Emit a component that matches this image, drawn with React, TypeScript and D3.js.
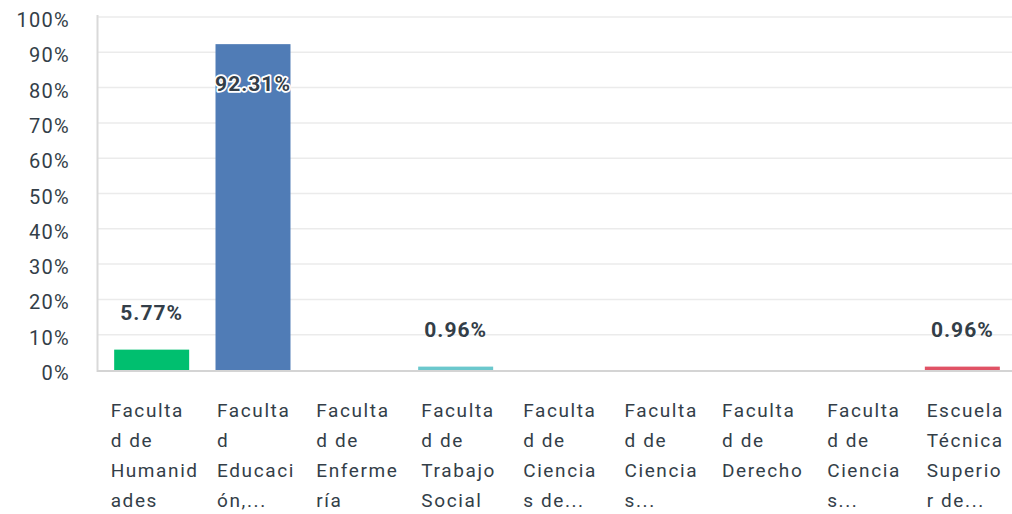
import React, { useEffect, useRef } from "react";
import * as d3 from "d3";

const categoryLines: string[][] = [
  ["Faculta", "d de", "Humanid", "ades"],
  ["Faculta", "d", "Educaci", "ón,..."],
  ["Faculta", "d de", "Enferme", "ría"],
  ["Faculta", "d de", "Trabajo", "Social"],
  ["Faculta", "d de", "Ciencia", "s de..."],
  ["Faculta", "d de", "Ciencia", "s..."],
  ["Faculta", "d de", "Derecho"],
  ["Faculta", "d de", "Ciencia", "s..."],
  ["Escuela", "Técnica", "Superio", "r de..."],
];
const values: number[] = [5.77, 92.31, 0, 0.96, 0, 0, 0, 0, 0.96];
const barColors: string[] = [
  "#00bf6f", "#507cb6", "#f9be00", "#6bc8cd", "#ff8b4f", "#7d5ab8", "#e05265", "#a0a0a0", "#e05265",
];
const yTicks: number[] = [0, 10, 20, 30, 40, 50, 60, 70, 80, 90, 100];

const W = 1012;
const H = 514;
const TEXT = "#333e48";
const FONT = "Roboto, 'Noto Sans', sans-serif";

export default function App() {
  const ref = useRef<SVGSVGElement | null>(null);

  useEffect(() => {
    const svg = d3.select(ref.current);
    svg.selectAll("*").remove();

    const x = d3
      .scaleBand<number>()
      .domain(values.map((_, i) => i))
      .range([101, 1013])
      .paddingInner(0.26)
      .paddingOuter(0.13);
    const y = d3.scaleLinear().domain([0, 100]).range([370, 17]);

    svg
      .append("g")
      .selectAll("line")
      .data(yTicks.filter((t) => t > 0))
      .join("line")
      .attr("x1", 98)
      .attr("x2", W)
      .attr("y1", (d) => y(d))
      .attr("y2", (d) => y(d))
      .attr("stroke", "#ebebeb")
      .attr("stroke-width", 1.5);

    svg
      .append("g")
      .selectAll("text")
      .data(yTicks)
      .join("text")
      .attr("x", 70)
      .attr("y", (d) => y(d) + 10)
      .attr("text-anchor", "end")
      .attr("font-family", FONT)
      .attr("font-size", 20)
      .attr("letter-spacing", 1.3)
      .attr("fill", TEXT)
      .text((d) => `${d}%`);

    svg
      .append("g")
      .selectAll("rect")
      .data(values)
      .join("rect")
      .attr("x", (_, i) => x(i)!)
      .attr("width", x.bandwidth())
      .attr("y", (d) => y(d))
      .attr("height", (d) => y(0) - y(d))
      .attr("fill", (_, i) => barColors[i]);

    svg
      .append("line")
      .attr("x1", 97.5)
      .attr("x2", 97.5)
      .attr("y1", 15)
      .attr("y2", 372)
      .attr("stroke", "#d9d9d9")
      .attr("stroke-width", 2);
    svg
      .append("line")
      .attr("x1", 97)
      .attr("x2", W)
      .attr("y1", 371)
      .attr("y2", 371)
      .attr("stroke", "#d4d4d4")
      .attr("stroke-width", 2);

    const labelled = values
      .map((v, i) => ({ v, i }))
      .filter((d) => d.v > 0);
    svg
      .append("g")
      .selectAll("text")
      .data(labelled)
      .join("text")
      .attr("x", (d) => x(d.i)! + x.bandwidth() / 2)
      .attr("y", (d) => (d.v > 50 ? y(d.v) + 47 : y(d.v) - 30))
      .attr("text-anchor", "middle")
      .attr("font-family", FONT)
      .attr("font-weight", 700)
      .attr("font-size", 21)
      .attr("letter-spacing", 1)
      .attr("fill", TEXT)
      .attr("stroke", (d) => (d.v > 50 ? "#ffffff" : "none"))
      .attr("stroke-width", 3.5)
      .attr("stroke-linejoin", "round")
      .attr("paint-order", "stroke")
      .text((d) => `${d.v.toFixed(2)}%`);

    const cg = svg.append("g");
    categoryLines.forEach((lines, i) => {
      const t = cg
        .append("text")
        .attr("font-family", FONT)
        .attr("font-size", 19)
        .attr("letter-spacing", 1.6)
        .attr("fill", TEXT);
      const spans = t
        .selectAll("tspan")
        .data(lines)
        .join("tspan")
        .attr("y", (_, k) => 417 + k * 30)
        .text((d) => d);
      let maxW = 0;
      spans.each(function () {
        const w = (this as SVGTSpanElement).getComputedTextLength();
        if (w > maxW) maxW = w;
      });
      const cx = x(i)! + x.bandwidth() / 2 + 3;
      spans.attr("x", cx - maxW / 2);
    });
  }, []);

  return (
    <svg
      ref={ref}
      width={W}
      height={H}
      style={{ position: "absolute", left: 0, top: 0, background: "#fff" }}
    />
  );
}
